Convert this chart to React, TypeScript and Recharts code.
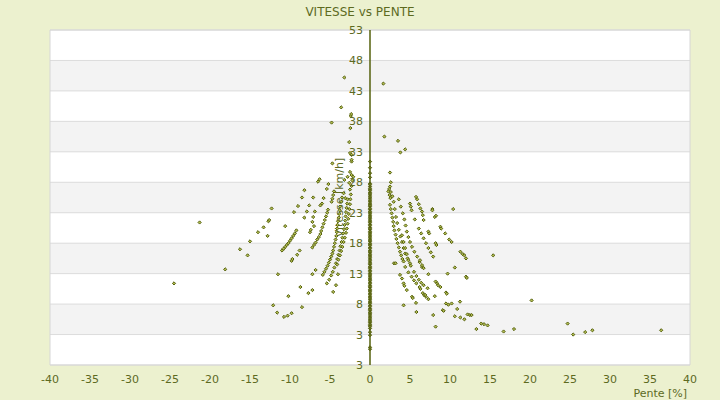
import React from 'react';
import { ScatterChart, Scatter, XAxis, YAxis, CartesianGrid, ReferenceLine, ReferenceArea } from 'recharts';

// ---------- data (pente %, vitesse km/h) ----------
const xTicks = [-40, -35, -30, -25, -20, -15, -10, -5, 0, 5, 10, 15, 20, 25, 30, 35, 40];
const yTicks = [-2, 3, 8, 13, 18, 23, 28, 33, 38, 43, 48, 53];
const yTickLabels = ['3', '3', '8', '13', '18', '23', '28', '33', '38', '43', '48', '53'];

// speeds recorded on flat ground (pente = 0)
const flatSpeeds = [
  31.4, 30.4, 29.5, 28.8, 27.8, 27.3, 26.8, 26.3, 25.9, 25.4, 24.9, 24.4, 24.0, 23.5, 23.0, 22.5,
  22.1, 21.6, 21.1, 20.6, 20.2, 19.7, 19.2, 18.7, 18.3, 17.8, 17.3, 16.8, 16.4, 15.9, 15.4, 14.9,
  14.5, 14.0, 13.5, 13.0, 12.6, 12.1, 11.6, 11.1, 10.7, 10.2, 9.7, 9.2, 8.8, 8.3, 7.8, 7.3, 6.9,
  6.4, 5.9, 5.4, 5.0, 4.5, 4.0, 3.4, 2.9, 0.9, 0.6,
];
const flatSpeedsMore = [
  27.6, 27.0, 26.6, 26.1, 25.6, 25.1, 24.6, 24.2, 23.7, 23.2, 22.8, 22.3, 21.8, 21.4, 20.9,
  20.4, 19.9, 19.5, 19.0, 18.5, 18.0, 17.6, 17.1, 16.6, 16.1, 15.7, 15.2, 14.7, 14.2, 13.8,
  13.3, 12.8, 12.3, 11.9, 11.4, 10.9, 10.4, 10.0, 9.5, 9.0, 8.5, 8.1, 7.6, 7.1, 6.6, 6.2, 5.7,
  5.2, 4.7, 4.3,
];

const descentSparse: [number, number][] = [
  [-24.5, 11.4], [-21.3, 21.4], [-18.1, 13.7], [-16.25, 17.0], [-15.3, 16.0], [-15.0, 18.3],
  [-14.0, 19.8], [-13.3, 20.6], [-12.8, 19.2], [-12.7, 21.6], [-12.6, 21.8], [-12.3, 23.7],
  [-11.5, 12.9], [-12.1, 7.8], [-11.6, 6.6], [-10.75, 5.9], [-10.3, 6.1], [-9.8, 6.5],
  [-10.2, 9.3], [-8.7, 10.8], [-8.5, 7.5], [-7.7, 9.8], [-7.2, 10.3], [-7.2, 12.9], [-6.8, 13.6],
];

const descentOuter: [number, number][] = [
  [-11.0, 16.8], [-10.8, 17.1], [-10.6, 17.4], [-10.4, 17.7], [-10.2, 18.0], [-10.0, 18.4],
  [-9.8, 18.8], [-9.6, 19.2], [-9.4, 19.6], [-9.2, 20.1], [-10.6, 20.8], [-9.8, 15.1],
  [-9.7, 15.4], [-9.1, 16.1], [-8.8, 16.8],
  [-8.2, 22.2], [-7.9, 23.2], [-7.6, 24.2], [-7.1, 25.5], [-9.5, 23.1], [-9.0, 24.1],
  [-8.5, 25.5], [-8.2, 26.7], [-7.5, 19.8], [-7.0, 20.8], [-7.4, 20.2], [-7.2, 21.5],
  [-7.1, 22.3], [-6.9, 23.2],
];

const descentArcA: [number, number][] = [
  [-7.2, 17.3], [-7.0, 17.7], [-6.8, 18.1], [-6.6, 18.6], [-6.4, 19.0], [-6.2, 19.5],
  [-6.1, 20.0], [-5.95, 20.6], [-5.8, 21.2], [-5.65, 21.8], [-5.5, 22.4], [-5.35, 23.0],
  [-5.25, 23.5], [-5.8, 25.4], [-6.0, 24.5], [-6.2, 24.2], [-5.4, 26.9], [-5.2, 27.7],
  [-6.3, 28.5], [-6.5, 28.1],
];

const descentArcB: [number, number][] = [
  [-5.9, 12.8], [-5.7, 13.3], [-5.5, 13.8], [-5.3, 14.3], [-5.15, 14.8], [-5.0, 15.3],
  [-4.85, 15.8], [-4.7, 16.3], [-4.6, 16.8], [-4.5, 17.4], [-4.4, 18.0], [-4.3, 18.6],
  [-4.2, 19.2], [-4.15, 19.8], [-4.1, 20.4], [-4.05, 21.0], [-4.0, 21.6], [-3.9, 22.2],
  [-3.85, 22.8], [-3.8, 23.4], [-3.75, 24.0], [-3.6, 24.8], [-3.5, 25.5],
];

const descentArcC: [number, number][] = [
  [-5.4, 11.4], [-5.1, 12.0], [-4.85, 12.7], [-4.65, 13.3], [-4.45, 14.0], [-4.25, 14.7],
  [-4.1, 15.4], [-3.95, 16.1], [-3.8, 16.8], [-3.7, 17.5], [-3.55, 18.2], [-3.45, 18.9],
  [-3.35, 19.6], [-3.25, 20.3], [-3.18, 21.0], [-3.1, 21.7], [-3.05, 22.4], [-3.0, 23.1],
  [-2.93, 23.8], [-2.85, 24.5], [-2.8, 25.2],
];

const descentArcD: [number, number][] = [
  [-4.6, 10.0], [-4.25, 11.1], [-4.0, 12.9], [-4.1, 14.5], [-3.95, 15.3], [-3.75, 16.0],
  [-3.6, 16.7], [-3.45, 17.4], [-3.3, 18.2], [-3.15, 18.9], [-3.0, 19.7], [-2.9, 20.4],
  [-2.8, 21.2], [-2.72, 22.0], [-2.65, 22.8], [-2.58, 23.6], [-2.5, 24.4], [-2.45, 25.2],
  [-2.4, 26.0],
];

const descentFast: [number, number][] = [
  [-2.5, 26.8], [-2.3, 27.4], [-2.6, 27.9], [-2.2, 28.3], [-2.8, 28.9], [-2.3, 29.2],
  [-2.1, 28.9], [-2.5, 29.7], [-2.3, 31.4], [-2.3, 31.7], [-2.5, 32.8], [-2.3, 32.5],
  [-2.6, 34.6], [-2.45, 36.9], [-2.4, 38.9], [-2.35, 39.2], [-3.6, 40.3], [-3.2, 45.2],
  [-4.8, 37.8], [-4.7, 31.1], [-3.2, 28.4], [-3.3, 26.2], [-3.1, 25.4], [-4.5, 26.5],
  [-4.6, 25.9], [-4.7, 25.3], [-4.8, 24.8],
];

const climbTop: [number, number][] = [
  [1.67, 44.2], [1.8, 35.5], [3.5, 34.8], [3.8, 32.9], [4.4, 33.4], [2.5, 29.6], [2.6, 28.0],
  [2.5, 27.3], [2.4, 26.9], [2.6, 26.4], [2.45, 25.9], [2.55, 25.4], [2.8, 25.7], [2.3, 26.5],
];

const climbArc1: [number, number][] = [
  [2.5, 24.3], [2.6, 23.6], [2.7, 22.9], [2.8, 22.2], [2.9, 21.5], [2.96, 20.8], [3.05, 20.1],
  [3.2, 19.4], [3.3, 18.7], [3.45, 18.0], [3.6, 17.3], [3.75, 16.6], [3.9, 16.0], [4.05, 15.4],
  [4.2, 15.0], [3.0, 14.7],
];

const climbArc2: [number, number][] = [
  [2.96, 24.8], [3.1, 23.6], [3.25, 22.3], [3.4, 21.3], [3.6, 20.2], [3.8, 19.1], [4.0, 18.2],
  [4.2, 17.2], [4.4, 16.3], [4.7, 15.5], [5.0, 14.7],
];

const climbArc3: [number, number][] = [
  [3.6, 25.2], [3.85, 24.0], [4.1, 22.9], [4.3, 21.9], [4.45, 20.9], [4.6, 19.9], [4.8, 19.0],
  [5.0, 18.2], [5.25, 17.4], [5.55, 16.6], [5.9, 15.8], [6.2, 14.9], [6.5, 14.1],
];

const climbArc4: [number, number][] = [
  [4.0, 19.3], [4.2, 18.2], [4.4, 17.2], [4.6, 16.2], [4.8, 15.2], [5.1, 14.3], [5.5, 13.3],
  [5.8, 12.6], [6.1, 12.0], [6.4, 11.5], [6.7, 11.1],
];

const climbArc5: [number, number][] = [
  [5.6, 21.9], [6.1, 20.4], [6.4, 19.6], [6.7, 18.8], [7.0, 18.0], [7.3, 17.2], [7.6, 16.5],
  [7.9, 15.8], [5.1, 24.0], [5.2, 23.4], [5.0, 24.5], [5.75, 25.6], [5.9, 25.2], [6.1, 24.4],
  [6.3, 23.7], [6.5, 23.2], [6.6, 22.6], [6.7, 21.8],
  [4.4, 14.1], [4.8, 13.2], [5.2, 12.5], [5.5, 11.9], [5.8, 11.4], [6.3, 10.5],
];

const climbSparse: [number, number][] = [
  [7.8, 23.6], [7.8, 23.4], [8.1, 22.3], [8.25, 22.5], [10.4, 23.6], [7.3, 19.9], [7.4, 19.6],
  [8.8, 20.7], [8.9, 20.4], [9.4, 19.6], [9.9, 18.6], [10.2, 18.2], [8.2, 18.0], [8.3, 17.7],
  [11.3, 16.6], [11.6, 16.2], [11.8, 16.0], [12.0, 15.5], [15.4, 16.0], [10.6, 14.0],
  [9.7, 13.0], [7.3, 12.9], [6.25, 15.2], [6.5, 14.4], [6.7, 13.9], [8.2, 11.7], [8.4, 11.4],
  [8.5, 11.1], [8.8, 10.8], [9.5, 9.9], [9.6, 9.7], [12.0, 12.5], [12.1, 12.3], [8.1, 9.3],
  [9.5, 8.1], [9.8, 7.9], [10.2, 8.1], [11.25, 8.4], [9.1, 7.0], [9.2, 6.9], [10.9, 7.2],
  [10.6, 6.0], [11.3, 5.8], [11.8, 5.5], [12.2, 6.3], [12.5, 6.2], [7.9, 6.2], [8.2, 4.3],
  [13.3, 3.9], [4.2, 7.8], [5.8, 6.7], [3.2, 14.7], [3.75, 12.8], [4.0, 12.2], [4.2, 11.4],
  [4.3, 11.0], [4.6, 10.3], [5.25, 9.2], [5.35, 9.0], [5.75, 8.2], [6.2, 10.8], [6.6, 9.8],
  [6.75, 9.5], [7.0, 9.2], [7.2, 10.6], [7.3, 8.8], [6.9, 9.5], [20.2, 8.6], [12.7, 6.2],
  [13.9, 4.8], [14.25, 4.7], [14.7, 4.5], [16.7, 3.5], [18.0, 3.9], [24.7, 4.8], [25.4, 3.0],
  [26.9, 3.4], [27.8, 3.7], [36.4, 3.7],
];

const pairs: [number, number][] = [
  ...descentSparse, ...descentOuter, ...descentArcA, ...descentArcB, ...descentArcC,
  ...descentArcD, ...descentFast, ...climbTop, ...climbArc1, ...climbArc2, ...climbArc3,
  ...climbArc4, ...climbArc5, ...climbSparse,
];
const slopePoints = pairs.map(([p, v]) => ({ pente: p, vitesse: v }));
const flatPoints = [...flatSpeeds, ...flatSpeedsMore].map((v) => ({ pente: 0, vitesse: v }));

// ---------- layout / style ----------
const W = 720;
const H = 400;
const MARGIN = { top: 30, right: 30, bottom: 0, left: 49 };
const Y_AXIS_W = 1;
const PLOT_LEFT = MARGIN.left + Y_AXIS_W;
const AXIS_X = PLOT_LEFT + (W - PLOT_LEFT - MARGIN.right) / 2;
const BG = '#ecf1cf';
const TEXT = '#5d6a1f';
const MARK = '#55600d';
const FONT = '"DejaVu Sans", Verdana, sans-serif';

const makeMarker = (fill: string) => (props: any) => {
  const { cx, cy } = props;
  if (cx == null || cy == null) return null;
  const r = 1.6;
  return (
    <path
      d={`M${cx},${cy - r}L${cx + r},${cy}L${cx},${cy + r}L${cx - r},${cy}Z`}
      fill={fill}
      stroke={MARK}
      strokeWidth={1}
    />
  );
};
const Marker = makeMarker('#b3be52');
const FlatMarker = makeMarker('#6a7520');

const YTick = (props: any) => {
  const { y, payload } = props;
  const idx = yTicks.indexOf(payload.value);
  const label = idx >= 0 ? yTickLabels[idx] : String(payload.value);
  return (
    <text x={AXIS_X - 7} y={y} dy={4} textAnchor="end" fontSize={11} fill={TEXT} fontFamily={FONT}>
      {label}
    </text>
  );
};

const YTitle = (props: any) => {
  const vb = props.viewBox || {};
  const x = (vb.x ?? AXIS_X) - 27;
  const y = (vb.y ?? MARGIN.top) + (vb.height ?? 335) / 2;
  return (
    <text
      x={x}
      y={y}
      transform={`rotate(-90 ${x} ${y})`}
      textAnchor="middle"
      fontSize={11}
      fill={TEXT}
      fontFamily={FONT}
    >
      Vitesse [km/h]
    </text>
  );
};

export default function App() {
  return (
    <div
      style={{
        position: 'absolute',
        left: 0,
        top: 0,
        width: W,
        height: H,
        background: BG,
        fontFamily: FONT,
      }}
    >
      <div
        style={{
          position: 'absolute',
          top: 5,
          left: 0,
          width: W,
          textAlign: 'center',
          fontSize: 12,
          color: TEXT,
        }}
      >
        VITESSE vs PENTE
      </div>
      <ScatterChart width={W} height={H} margin={MARGIN}>
        <CartesianGrid
          vertical={false}
          stroke="#dcdcdc"
          horizontalFill={['#ffffff', '#f3f3f3']}
          fillOpacity={1}
        />
        <XAxis
          type="number"
          dataKey="pente"
          domain={[-40, 40]}
          ticks={xTicks}
          interval={0}
          axisLine={false}
          tickLine={false}
          tickMargin={4}
          height={35}
          tick={{ fontSize: 11, fill: TEXT }}
          allowDataOverflow
          label={{ value: 'Pente [%]', position: 'insideBottomRight', offset: 3, fontSize: 11, fill: TEXT }}
        />
        <YAxis
          type="number"
          dataKey="vitesse"
          domain={[-2, 53]}
          ticks={yTicks}
          interval={0}
          width={Y_AXIS_W}
          axisLine={false}
          tickLine={false}
          tick={<YTick />}
          allowDataOverflow
        />
        <ReferenceArea x1={-40} x2={40} y1={-2} y2={53} fill="none" stroke="#d6d6d6" />
        <ReferenceLine x={0} stroke={MARK} strokeWidth={1.5} label={<YTitle />} />
        <Scatter data={slopePoints} shape={<Marker />} isAnimationActive={false} />
        <Scatter data={flatPoints} shape={<FlatMarker />} isAnimationActive={false} />
      </ScatterChart>
    </div>
  );
}
